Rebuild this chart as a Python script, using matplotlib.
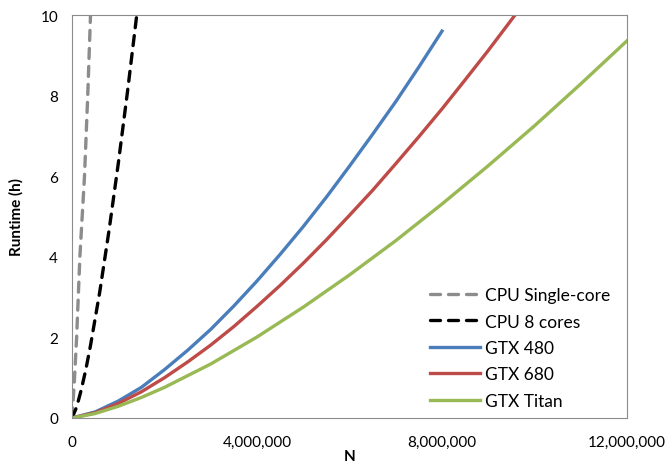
import matplotlib
matplotlib.use("Agg")
import matplotlib.pyplot as plt
from matplotlib.ticker import FuncFormatter

plt.rcParams['font.family'] = ['Lato', 'DejaVu Sans']

# runtime readings (N, hours)
cpu_single_n = [0, 50000, 100000, 170000, 270000, 340000, 400000]
cpu_single_h = [0, 0.9, 2.0, 4.0, 6.0, 8.0, 10.0]

cpu_8_n = [0, 100000, 200000, 300000, 400000, 600000, 800000, 1000000,
           1200000, 1400000]
cpu_8_h = [0, 0.27, 0.70, 1.21, 1.80, 3.13, 4.65, 6.31, 8.10, 10.0]

gtx480_n = [0, 500000, 1000000, 1500000, 2000000, 2500000, 3000000, 3500000,
            4000000, 4500000, 5000000, 5500000, 6000000, 6500000, 7000000,
            7500000, 8000000]
gtx480_h = [0, 0.15, 0.42, 0.76, 1.20, 1.68, 2.20, 2.78, 3.40, 4.06, 4.75,
            5.48, 6.25, 7.04, 7.85, 8.71, 9.6]

gtx680_n = [0, 500000, 1000000, 1500000, 2000000, 2500000, 3000000, 3500000,
            4000000, 4500000, 5000000, 5500000, 6000000, 6500000, 7000000,
            7500000, 8000000, 8500000, 9000000, 9580000, 10000000]
gtx680_h = [0, 0.13, 0.36, 0.65, 1.00, 1.39, 1.81, 2.27, 2.77, 3.29, 3.84,
            4.42, 5.03, 5.65, 6.31, 6.98, 7.67, 8.39, 9.12, 10.0, 10.65]

titan_n = [0, 500000, 1000000, 1500000, 2000000, 3000000, 4000000, 5000000,
           6000000, 7000000, 8000000, 9000000, 10000000, 11000000, 12000000]
titan_h = [0, 0.11, 0.29, 0.51, 0.76, 1.34, 2.01, 2.75, 3.55, 4.40, 5.31,
           6.26, 7.25, 8.29, 9.36]

fig = plt.figure(figsize=(6.68, 4.64), dpi=100)
ax = fig.add_axes([0.1078, 0.097, 0.8308, 0.8685])

dash = (0, (3.0, 2.4))
ax.plot(cpu_single_n, cpu_single_h, color="#8c8c8c", lw=2.4, ls=dash,
        dash_capstyle="round", label="CPU Single-core")
ax.plot(cpu_8_n, cpu_8_h, color="black", lw=2.4, ls=dash,
        dash_capstyle="round", label="CPU 8 cores")
ax.plot(gtx480_n, gtx480_h, color="#4a7ebb", lw=2.4, label="GTX 480")
ax.plot(gtx680_n, gtx680_h, color="#be4b48", lw=2.4, label="GTX 680")
ax.plot(titan_n, titan_h, color="#98b954", lw=2.4, label="GTX Titan")

ax.set_xlim(0, 12000000)
ax.set_ylim(0, 10)
ax.set_xticks([0, 4000000, 8000000, 12000000])
ax.set_yticks([0, 2, 4, 6, 8, 10])
ax.xaxis.set_major_formatter(FuncFormatter(lambda v, p: "{:,}".format(int(v))))
ax.tick_params(axis="x", length=0, labelsize=11, pad=12)
ax.tick_params(axis="y", length=0, labelsize=11, pad=10)
for s in ax.spines.values():
    s.set_color("#8c8c8c")
ax.set_xlabel("N", fontsize=11, fontweight="bold", labelpad=0)
ax.set_ylabel("Runtime (h)", fontsize=11, fontweight="bold", labelpad=12)

ax.legend(loc="lower right", bbox_to_anchor=(0.998, -0.016), frameon=False,
          fontsize=12.5, handlelength=2.9, labelspacing=0.6, handletextpad=0.28)

fig.savefig("out.png", dpi=100)
